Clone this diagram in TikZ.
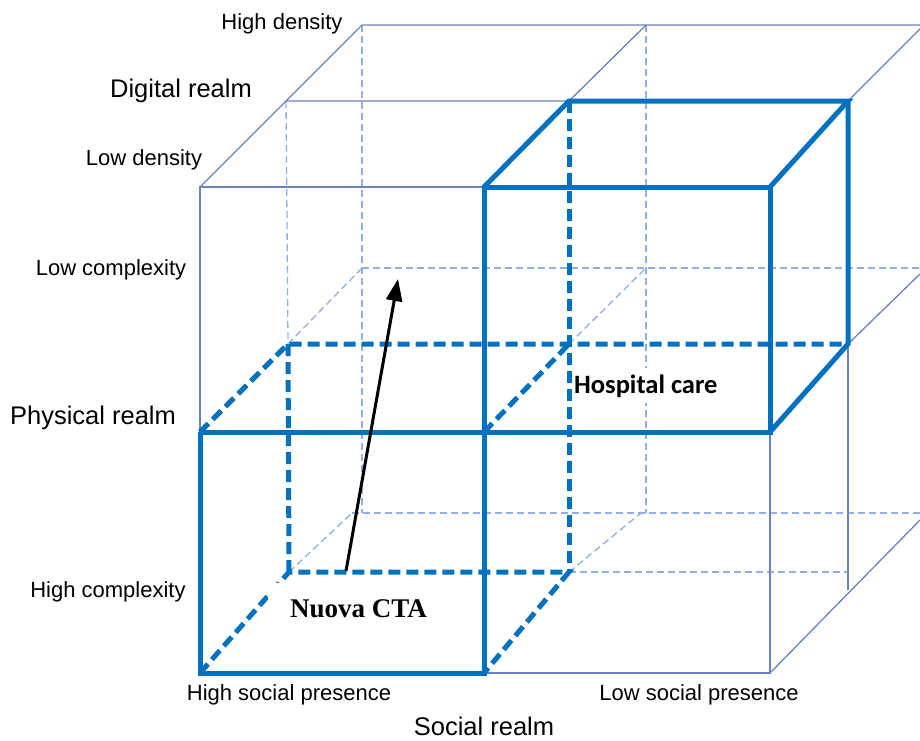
\documentclass[tikz,border=0pt]{standalone}
\usepackage{fontspec}
\setmainfont{Liberation Sans}
\newfontfamily\calibrifont{Carlito}
\newfontfamily\timesfont{Liberation Serif}
\usetikzlibrary{arrows.meta}

\definecolor{cubeblue}{HTML}{0070C0}
\definecolor{gridline}{HTML}{6A82BE}
\definecolor{gridhidden}{HTML}{8EB0E4}

\tikzset{
  thinedge/.style={draw=gridline, line width=1.3pt},
  hiddenedge/.style={draw=gridhidden, line width=1.3pt, dash pattern=on 7pt off 4pt},
  boldedge/.style={draw=cubeblue, line width=5pt},
  bolddash/.style={draw=cubeblue, line width=5pt, dash pattern=on 12pt off 6pt},
  axislabel/.style={font=\fontsize{22}{26}\selectfont, anchor=base, inner sep=0pt},
  realmlabel/.style={font=\fontsize{25.5}{30}\selectfont, anchor=base, inner sep=0pt},
}

\begin{document}
\begin{tikzpicture}[x=1pt, y=-1pt]
\useasboundingbox (0,0) rectangle (920,740);

% front layer
\coordinate (F00) at (200,673); \coordinate (F10) at (484,673); \coordinate (F20) at (770,673);
\coordinate (F01) at (200,432); \coordinate (F11) at (484,432); \coordinate (F21) at (770,432);
\coordinate (F02) at (200,187); \coordinate (F12) at (484,187); \coordinate (F22) at (770,187);
% middle layer
\coordinate (M00) at (289,572); \coordinate (M10) at (569,572); \coordinate (M20) at (848,572);
\coordinate (M01) at (288,344); \coordinate (M11) at (569,344); \coordinate (M21) at (848,344);
\coordinate (M02) at (286,101); \coordinate (M12) at (569,101); \coordinate (M22) at (848,101);
% back layer
\coordinate (B00) at (352,513); \coordinate (B10) at (641,513);
\coordinate (B01) at (362,268); \coordinate (B11) at (646,268);
\coordinate (B02) at (362,25);  \coordinate (B12) at (646,25);
\coordinate (B0b) at (362,513); \coordinate (B1b) at (646,513);
% open ends at the right border
\coordinate (Etop) at (920,25);  \coordinate (Etopd) at (920,29);
\coordinate (Emid) at (920,268); \coordinate (Emidd) at (920,274);
\coordinate (Ebot) at (920,513); \coordinate (Ebotd) at (920,520);
\coordinate (Rlow) at (848,590);

% hidden grid lines
\draw[hiddenedge] (M02) -- (M01);
\draw[hiddenedge] (B02) -- (B0b);
\draw[hiddenedge] (B12) -- (B1b);
\draw[hiddenedge] (B01) -- (Emid);
\draw[hiddenedge] (M01) -- (B01);
\draw[hiddenedge] (M11) -- (B11);
\draw[hiddenedge] (B00) -- (Ebot);
\draw[hiddenedge] (M00) -- (B00);
\draw[hiddenedge] (M10) -- (B10);
\draw[hiddenedge] (M10) -- (M20);

% visible grid lines
\draw[thinedge] (F02) -- (B02) -- (Etop);
\draw[thinedge] (M02) -- (M12) -- (B12);
\draw[thinedge] (M22) -- (Etopd);
\draw[thinedge] (F01) -- (F02) -- (F12);
\draw[thinedge] (F10) -- (F20) -- (F21);
\draw[thinedge] (M21) -- (Emidd);
\draw[thinedge] (M21) -- (Rlow);
\draw[thinedge] (F20) -- (Ebotd);

% highlighted cells: hidden edges
\draw[bolddash] (M12) -- (M10);
\draw[bolddash] (F01) -- (M01) -- (M21);
\draw[bolddash] (F11) -- (M11);
\draw[bolddash] (M01) -- (M00);
\draw[bolddash] (F00) -- (M00) -- (M10) -- (F10);

% highlighted cells: visible edges
\draw[boldedge] (F01) -- (F00) -- (F10) -- (F12) -- (F22) -- (F21) -- (F01);
\draw[boldedge] (F12) -- (M12) -- (M22) -- (F22);
\draw[boldedge] (M22) -- (M21) -- (F21);

% cell labels
\node[font=\calibrifont\bfseries\fontsize{26.5}{30}\selectfont, fill=white, inner xsep=1pt, inner ysep=6pt, anchor=base west] (hosp) at (573,393) {Hospital care};
\node[font=\timesfont\bfseries\fontsize{27}{30}\selectfont, fill=white, inner xsep=22pt, inner ysep=16pt, anchor=base west] (cta) at (268,617) {Nuova CTA};

% transition arrow
\coordinate (arrtail) at (346,571);
\coordinate (arrtip) at (398,279);
\draw[line width=3pt, -{Triangle[length=22pt, width=16pt]}] (arrtail) -- (arrtip);

% axis labels
\node[axislabel] (hd) at (282,29) {High density};
\node[realmlabel] (dr) at (181,97) {Digital realm};
\node[axislabel] (ld) at (144,165) {Low density};
\node[axislabel] (lc) at (111,275) {Low complexity};
\node[realmlabel] (pr) at (93,424) {Physical realm};
\node[axislabel] (hc) at (108,597) {High complexity};
\node[axislabel] (hsp) at (289,700) {High social presence};
\node[axislabel] (lsp) at (699,700) {Low social presence};
\node[realmlabel] (sr) at (484,735) {Social realm};
\end{tikzpicture}
\end{document}
